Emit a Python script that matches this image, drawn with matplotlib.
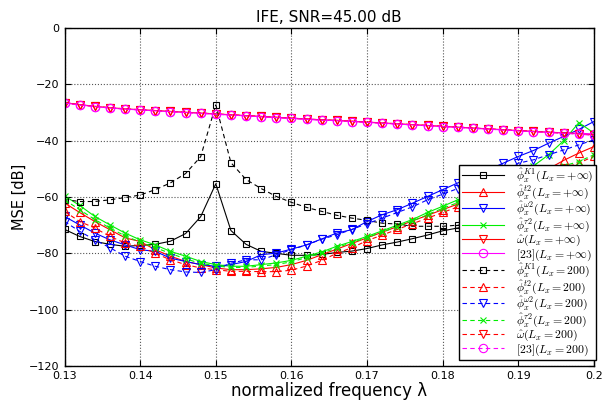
import numpy as np
import matplotlib
matplotlib.use('Agg')
import matplotlib.pyplot as plt

plt.rcParams['mathtext.fontset'] = 'cm'

# normalized frequency grid
freq = [0.130, 0.132, 0.134, 0.136, 0.138, 0.140, 0.142, 0.144, 0.146, 0.148,
        0.150, 0.152, 0.154, 0.156, 0.158, 0.160, 0.162, 0.164, 0.166, 0.168,
        0.170, 0.172, 0.174, 0.176, 0.178, 0.180, 0.182, 0.184, 0.186, 0.188,
        0.190, 0.192, 0.194, 0.196, 0.198, 0.200]

# L_x = +inf
k1_inf = [-71.5, -74.0, -75.8, -76.8, -77.5, -77.2, -76.8, -75.7, -73.0, -67.0,
          -55.3, -71.9, -76.8, -79.3, -80.0, -80.7, -80.7, -80.4, -79.7, -79.2,
          -78.3, -77.0, -76.0, -74.8, -73.5, -72.0, -71.0, -70.0, -69.0, -68.0,
          -66.5, -65.0, -63.5, -61.5, -59.5, -57.3]
t2_inf = [-62.1, -65.5, -68.7, -71.6, -74.5, -75.8, -78.7, -81.0, -82.9, -84.0,
          -85.2, -85.8, -85.8, -85.5, -85.0, -84.0, -82.5, -80.5, -78.5, -76.5,
          -74.5, -72.5, -70.5, -68.5, -66.5, -64.5, -62.5, -60.5, -58.5, -56.5,
          -54.5, -52.5, -50.0, -47.0, -44.4, -42.1]
w2_inf = [-66.9, -69.9, -72.8, -75.2, -77.0, -78.7, -79.3, -81.7, -82.9, -84.0,
          -84.6, -84.0, -82.9, -80.5, -79.9, -78.5, -77.0, -74.9, -72.8, -71.6,
          -68.7, -66.3, -64.5, -62.2, -59.8, -57.4, -55.0, -52.7, -50.4, -48.0,
          -45.6, -43.5, -40.9, -38.5, -36.0, -33.2]
tau2_inf = [-59.6, -63.0, -66.9, -69.9, -72.8, -75.2, -77.0, -79.3, -81.0, -82.9,
            -84.0, -84.6, -84.6, -84.0, -83.4, -82.5, -81.0, -79.5, -77.5, -75.8,
            -74.0, -72.0, -70.0, -68.0, -65.5, -63.3, -61.0, -58.5, -56.0, -53.5,
            -51.5, -49.0, -45.0, -40.0, -33.6, -37.3]
omega_inf = [-26.5, -27.2, -27.8, -28.3, -28.7, -29.0, -29.3, -29.6, -29.9, -30.2,
             -30.5, -30.8, -31.1, -31.4, -31.7, -32.0, -32.3, -32.6, -32.8, -33.1,
             -33.4, -33.7, -34.0, -34.3, -34.6, -34.9, -35.2, -35.5, -35.8, -36.1,
             -36.4, -36.7, -37.0, -37.2, -37.5, -37.9]
ref23_inf = [-26.6, -27.3, -27.9, -28.4, -28.8, -29.1, -29.4, -29.7, -30.0, -30.3,
             -30.6, -30.9, -31.2, -31.5, -31.8, -32.1, -32.4, -32.7, -32.9, -33.2,
             -33.5, -33.8, -34.1, -34.4, -34.7, -35.0, -35.3, -35.6, -35.9, -36.2,
             -36.5, -36.8, -37.0, -37.3, -37.4, -37.6]

# L_x = 200
k1_200 = [-60.9, -61.6, -61.6, -61.0, -60.2, -59.3, -57.4, -55.0, -51.7, -45.7,
          -27.3, -47.8, -53.8, -57.0, -59.8, -61.9, -63.7, -65.1, -66.5, -67.5,
          -68.3, -69.3, -69.6, -70.4, -70.4, -70.4, -70.0, -69.5, -68.5, -67.0,
          -65.5, -64.0, -62.0, -60.0, -57.5, -54.5]
t2_200 = [-65.1, -68.7, -71.0, -74.0, -76.3, -77.5, -80.0, -82.3, -84.0, -85.2,
          -85.8, -86.4, -86.4, -86.5, -86.5, -86.0, -84.5, -82.5, -80.0, -78.0,
          -75.5, -73.5, -71.5, -69.5, -67.5, -65.5, -63.5, -61.5, -59.5, -57.5,
          -56.0, -54.0, -52.0, -49.6, -48.0, -45.5]
w2_200 = [-68.7, -72.2, -75.2, -78.0, -81.0, -82.9, -84.6, -85.8, -86.6, -86.8,
          -85.8, -83.5, -82.3, -82.3, -80.5, -78.7, -77.0, -75.0, -73.4, -71.5,
          -69.5, -67.5, -65.5, -63.5, -61.0, -59.0, -57.0, -55.0, -53.0, -51.0,
          -48.0, -46.8, -45.0, -43.3, -41.5, -39.7]
tau2_200 = [-61.0, -64.5, -68.0, -71.0, -73.8, -76.0, -78.0, -80.0, -82.0, -83.5,
            -84.5, -85.0, -85.0, -84.5, -84.0, -83.0, -81.5, -80.0, -78.0, -76.2,
            -74.4, -72.5, -70.5, -68.5, -66.3, -64.0, -62.0, -60.0, -58.0, -56.0,
            -54.0, -52.0, -50.5, -49.0, -47.4, -45.0]
omega_200 = [-26.6, -27.2, -27.8, -28.3, -28.7, -29.0, -29.3, -29.6, -29.9, -30.2,
             -30.5, -30.8, -31.1, -31.4, -31.7, -32.0, -32.3, -32.6, -32.8, -33.1,
             -33.4, -33.7, -34.0, -34.3, -34.6, -34.9, -35.2, -35.5, -35.8, -36.1,
             -36.4, -36.7, -37.0, -37.3, -37.6, -38.0]
ref23_200 = [-26.7, -27.3, -27.9, -28.4, -28.8, -29.1, -29.4, -29.7, -30.0, -30.3,
             -30.6, -30.9, -31.2, -31.5, -31.8, -32.1, -32.4, -32.7, -32.9, -33.2,
             -33.5, -33.8, -34.1, -34.4, -34.7, -35.0, -35.3, -35.6, -35.9, -36.2,
             -36.5, -36.8, -37.1, -37.4, -37.7, -38.1]

labels = [r'$\hat{\phi}_x^{K1}(L_x=+\infty)$', r'$\hat{\phi}_x^{t2}(L_x=+\infty)$',
          r'$\hat{\phi}_x^{\omega2}(L_x=+\infty)$', r'$\hat{\phi}_x^{\tau2}(L_x=+\infty)$',
          r'$\hat{\omega}(L_x=+\infty)$', r'$[23](L_x=+\infty)$',
          r'$\hat{\phi}_x^{K1}(L_x=200)$', r'$\hat{\phi}_x^{t2}(L_x=200)$',
          r'$\hat{\phi}_x^{\omega2}(L_x=200)$', r'$\hat{\phi}_x^{\tau2}(L_x=200)$',
          r'$\hat{\omega}(L_x=200)$', r'$[23](L_x=200)$']

series = [k1_inf, t2_inf, w2_inf, tau2_inf, omega_inf, ref23_inf,
          k1_200, t2_200, w2_200, tau2_200, omega_200, ref23_200]
colors = ['k', '#ff0000', '#0000ff', '#00ee00', '#ff0000', '#ff00ff'] * 2
markers = ['s', '^', 'v', 'x', 'v', 'o'] * 2
msizes = [5, 6, 6, 4.5, 6, 6] * 2

fig = plt.figure(figsize=(6.03, 4.0), dpi=100)
ax = fig.add_axes([0.107, 0.085, 0.878, 0.845])

for k in range(12):
    ls = '-' if k < 6 else (0, (4, 3))
    ax.plot(freq, series[k], color=colors[k], linestyle=ls, linewidth=0.8,
            marker=markers[k], markersize=msizes[k], markerfacecolor='none',
            markeredgecolor=colors[k], markeredgewidth=0.8, label=labels[k])

ax.set_xlim(0.13, 0.2)
ax.set_ylim(-120, 0)
ax.set_xticks([0.13, 0.14, 0.15, 0.16, 0.17, 0.18, 0.19, 0.2])
ax.set_xticklabels(['0.13', '0.14', '0.15', '0.16', '0.17', '0.18', '0.19', '0.2'])
ax.set_yticks([0, -20, -40, -60, -80, -100, -120])
ax.tick_params(direction='in', top=True, right=True, labelsize=8, length=4)
ax.grid(True, linestyle=':', color='#555555', linewidth=0.8)
for s in ax.spines.values():
    s.set_linewidth(1.0)

ax.set_xlabel('normalized frequency λ', fontsize=12, labelpad=1)
ax.set_ylabel('MSE [dB]', fontsize=10.5, labelpad=2)
ax.set_title('IFE, SNR=45.00 dB', fontsize=11, pad=4)

leg = ax.legend(loc='lower right', bbox_to_anchor=(1.003, 0.018), fontsize=8.5,
                fancybox=False, framealpha=1, edgecolor='k', borderpad=0.2,
                labelspacing=-0.08, handlelength=3.6, handletextpad=1.0,
                borderaxespad=0.0)
leg.get_frame().set_linewidth(1.0)

fig.savefig('out.png', dpi=100)
